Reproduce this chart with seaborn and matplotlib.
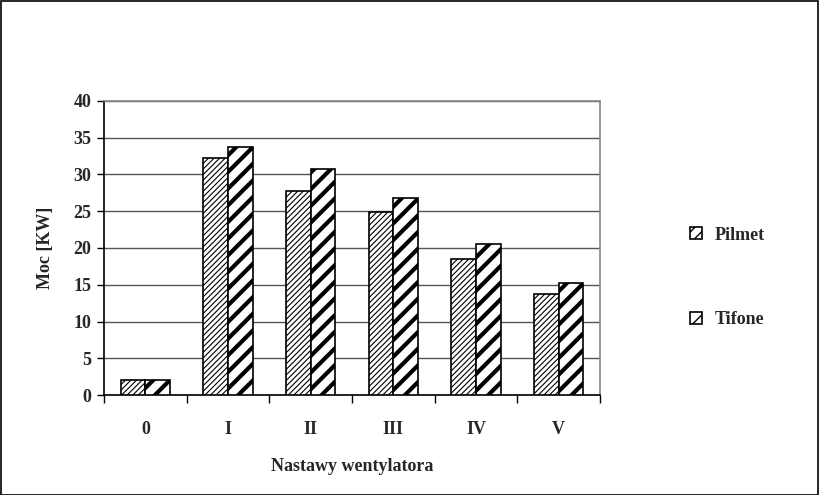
import matplotlib
matplotlib.use("Agg")
import matplotlib.pyplot as plt
import seaborn as sns
import pandas as pd
import numpy as np
from matplotlib.patches import Rectangle

categories = ["0", "I", "II", "III", "IV", "V"]
pilmet = [2.0, 32.2, 27.7, 24.9, 18.5, 13.8]
tifone = [2.0, 33.7, 30.8, 26.8, 20.5, 15.2]
series_names = ["Pilmet", "Tifone"]
yticks = [0, 5, 10, 15, 20, 25, 30, 35, 40]

df = pd.DataFrame({
    "cat": categories * 2,
    "val": pilmet + tifone,
    "series": [series_names[0]] * len(categories) + [series_names[1]] * len(categories),
})

sns.set_theme(style="white")
plt.rcParams["font.family"] = ["Liberation Serif", "DejaVu Serif"]
plt.rcParams["font.weight"] = "bold"

fig = plt.figure(figsize=(8.19, 4.95), dpi=100)
ax = fig.add_axes([0.127, 0.202, 0.6056, 0.594])

sns.barplot(data=df, x="cat", y="val", hue="series", order=categories,
            hue_order=series_names, palette=["white", "white"], width=0.6,
            edgecolor="black", linewidth=1.2, ax=ax, zorder=3, legend=True)

hatches = {"Pilmet": "//////", "Tifone": "//"}
hlw = {"Pilmet": 0.8, "Tifone": 3.0}
for cont, name in zip(ax.containers, series_names):
    for p in cont:
        p.set_hatch(hatches[name])
        try:
            p.set_hatch_linewidth(hlw[name])
        except AttributeError:
            pass

FS = 13
ax.set_ylim(0, 40)
ax.set_xlim(-0.5, len(categories) - 0.5)
ax.set_yticks(yticks)
ax.set_yticklabels([str(v) for v in yticks], fontsize=FS, fontweight="bold")
ax.set_xticks(range(len(categories)))
ax.set_xticklabels(categories, fontsize=FS, fontweight="bold")
ax.set_xticks(np.arange(-0.5, len(categories)), minor=True)
ax.tick_params(axis="x", which="major", length=0, pad=19)
ax.tick_params(axis="x", which="minor", length=6, width=1, color="black", direction="out", bottom=True)
ax.tick_params(axis="y", which="major", length=5, width=1, color="black", direction="out", left=True, pad=4)

ax.yaxis.grid(True, color="#555555", linewidth=1)
ax.set_axisbelow(True)
ax.xaxis.grid(False)
for s in ["left", "bottom"]:
    ax.spines[s].set_color("black")
    ax.spines[s].set_linewidth(1.2)
for s in ["top", "right"]:
    ax.spines[s].set_color("#888888")
    ax.spines[s].set_linewidth(1.2)

ax.set_xlabel("Nastawy wentylatora", fontsize=FS, fontweight="bold", labelpad=14)
ax.set_ylabel("Moc [KW]", fontsize=FS, fontweight="bold", labelpad=14)

handles, labels = ax.get_legend_handles_labels()
for h, name in zip(handles, series_names):
    h.set_hatch(hatches[name] if name == "Tifone" else "///")
    h.set_edgecolor("black")
    h.set_linewidth(1.2)
    try:
        h.set_hatch_linewidth(1.0 if name == "Pilmet" else 4.0)
    except AttributeError:
        pass
leg = fig.legend(handles, labels, loc="upper left", bbox_to_anchor=(0.843, 0.542),
                 bbox_transform=fig.transFigure, borderpad=0, borderaxespad=0,
                 frameon=False, prop={"family": "Liberation Serif", "weight": "bold", "size": FS},
                 handlelength=0.65, handleheight=0.65, handletextpad=0.7, labelspacing=3.75)
if ax.get_legend() is not None:
    ax.get_legend().remove()

fig.add_artist(Rectangle((0.001, 0.001), 0.998, 0.997, transform=fig.transFigure,
                         fill=False, edgecolor="black", linewidth=1.2))

fig.savefig("out.png", dpi=100)
